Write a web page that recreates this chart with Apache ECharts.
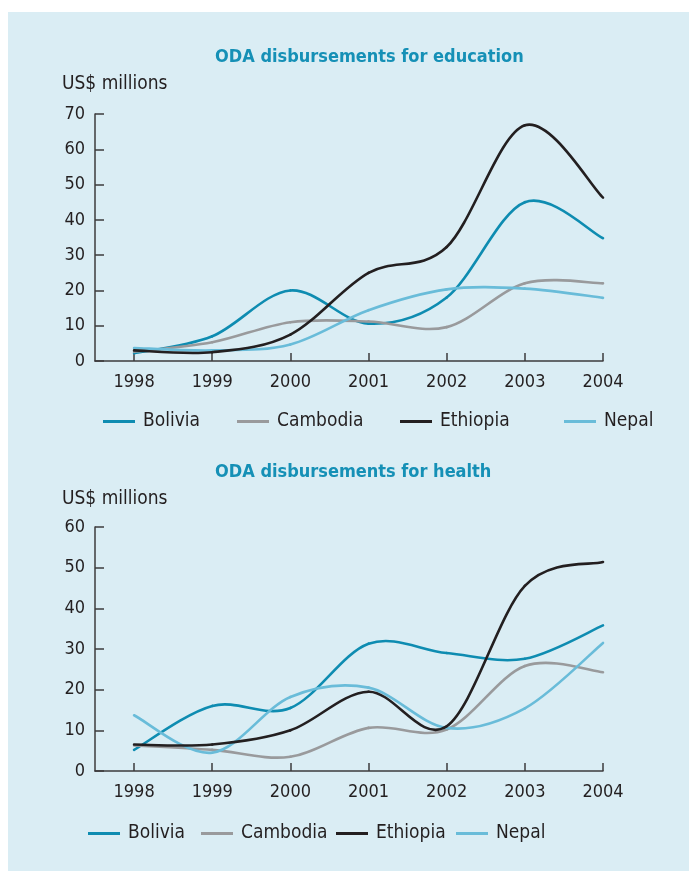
<!DOCTYPE html>
<html>
<head>
<meta charset="utf-8">
<script src="https://cdn.jsdelivr.net/npm/echarts@6/dist/echarts.min.js"></script>
<style>
html,body{margin:0;padding:0;background:#fff;}
#c{width:689px;height:871px;}
</style>
</head>
<body>
<div id="c"></div>
<script>
// ---- data ----
const years = [1998, 1999, 2000, 2001, 2002, 2003, 2004];
const countries = ['Bolivia', 'Cambodia', 'Ethiopia', 'Nepal'];
const eduBolivia  = [2.2, 7, 20, 10.6, 18, 45, 34.8];
const eduCambodia = [2.6, 5.3, 11, 11.2, 9.6, 22, 22];
const eduEthiopia = [3, 2.5, 7.5, 25, 32.3, 66.8, 46.3];
const eduNepal    = [3.7, 3, 4.7, 14.4, 20.3, 20.5, 17.9];
const hBolivia  = [5.2, 16, 15.5, 31.3, 29, 27.6, 35.8];
const hCambodia = [6.3, 5.2, 3.5, 10.6, 10.2, 25.8, 24.3];
const hEthiopia = [6.5, 6.5, 10, 19.5, 11, 45.5, 51.4];
const hNepal    = [13.7, 4.5, 18.2, 20.5, 10.6, 15.4, 31.5];
const eduTicks = [0, 10, 20, 30, 40, 50, 60, 70];
const hTicks = [0, 10, 20, 30, 40, 50, 60];

const colors = { Bolivia: '#0e8cb1', Cambodia: '#999a9c', Ethiopia: '#231f20', Nepal: '#69bcd9' };
const FONT = '"Liberation Sans Narrow", "DejaVu Sans Condensed", "Roboto Condensed", sans-serif';
const TXT = '#231f20';
const AX = '#3d3b3c';

const chart = echarts.init(document.getElementById('c'));

function pairs(vals) { return years.map((y, i) => [y, vals[i]]); }

function xAxis(gi) {
  return {
    type: 'value', gridIndex: gi, min: 1997.5, max: 2004,
    axisLine: { show: true, lineStyle: { color: AX, width: 1.5 } },
    axisTick: { show: true, inside: true, length: 8, customValues: years, lineStyle: { color: AX, width: 1.5 } },
    axisLabel: { customValues: years, margin: 12, color: TXT, fontFamily: FONT, fontSize: 18,
      formatter: v => String(v) },
    splitLine: { show: false }
  };
}
function yAxis(gi, max) {
  return {
    type: 'value', gridIndex: gi, min: 0, max: max, interval: 10,
    axisLine: { show: true, lineStyle: { color: AX, width: 1.5 } },
    axisTick: { show: true, inside: true, length: 9, lineStyle: { color: AX, width: 1.5 } },
    axisLabel: { margin: 10, color: TXT, fontFamily: FONT, fontSize: 18 },
    splitLine: { show: false }
  };
}
// Smooth curve (Catmull-Rom) drawn segment by segment through the axis scales
function curve(name, vals, gi) {
  const col = colors[name];
  return {
    type: 'custom', name: name, xAxisIndex: gi, yAxisIndex: gi,
    data: pairs(vals), clip: false,
    itemStyle: { color: col },
    z: name === 'Ethiopia' ? 3 : 2,
    renderItem: function (params, api) {
      const i = params.dataIndexInside;
      const n = params.dataInsideLength;
      if (i >= n - 1) return null;
      const pt = j => api.coord([api.value(0, j), api.value(1, j)]);
      const p1 = pt(i), p2 = pt(i + 1);
      const p0 = i > 0 ? pt(i - 1) : p1;
      const p3 = i + 2 < n ? pt(i + 2) : p2;
      return {
        type: 'bezierCurve',
        shape: {
          x1: p1[0], y1: p1[1], x2: p2[0], y2: p2[1],
          cpx1: p1[0] + (p2[0] - p0[0]) / 6, cpy1: p1[1] + (p2[1] - p0[1]) / 6,
          cpx2: p2[0] - (p3[0] - p1[0]) / 6, cpy2: p2[1] - (p3[1] - p1[1]) / 6
        },
        style: { stroke: col, lineWidth: 2.6, fill: null, lineCap: 'round' }
      };
    }
  };
}
function legend(name, left, top) {
  return {
    data: [{ name: name, itemStyle: { color: colors[name] } }], left: left, top: top,
    icon: 'rect', itemWidth: 32, itemHeight: 3,
    padding: 0, selectedMode: false,
    textStyle: { color: TXT, fontFamily: FONT, fontSize: 19, padding: [0, 0, 0, 3] }
  };
}

const topLeg = [103, 237, 400, 564];
const botLeg = [88, 201, 336, 456];

chart.setOption({
  backgroundColor: '#ffffff',
  animation: false,
  graphic: [{ type: 'rect', shape: { x: 8, y: 12, width: 700, height: 880 }, style: { fill: '#daedf4' }, z: -10 }],
  title: [
    { text: 'ODA disbursements for education', left: 215, top: 48, padding: 0,
      textStyle: { color: '#1590b6', fontFamily: FONT, fontSize: 18, fontWeight: 'bold' } },
    { text: 'US$ millions', left: 62, top: 75, padding: 0,
      textStyle: { color: TXT, fontFamily: FONT, fontSize: 19, fontWeight: 'normal' } },
    { text: 'ODA disbursements for health', left: 215, top: 463, padding: 0,
      textStyle: { color: '#1590b6', fontFamily: FONT, fontSize: 18, fontWeight: 'bold' } },
    { text: 'US$ millions', left: 62, top: 490, padding: 0,
      textStyle: { color: TXT, fontFamily: FONT, fontSize: 19, fontWeight: 'normal' } }
  ],
  legend: countries.map((n, i) => legend(n, topLeg[i], 412))
    .concat(countries.map((n, i) => legend(n, botLeg[i], 824))),
  grid: [
    { left: 95, top: 114, width: 508, height: 247 },
    { left: 95, top: 527, width: 508, height: 244 }
  ],
  xAxis: [xAxis(0), xAxis(1)],
  yAxis: [yAxis(0, eduTicks[eduTicks.length - 1]), yAxis(1, hTicks[hTicks.length - 1])],
  series: [
    curve('Bolivia', eduBolivia, 0), curve('Cambodia', eduCambodia, 0),
    curve('Ethiopia', eduEthiopia, 0), curve('Nepal', eduNepal, 0),
    curve('Bolivia', hBolivia, 1), curve('Cambodia', hCambodia, 1),
    curve('Ethiopia', hEthiopia, 1), curve('Nepal', hNepal, 1)
  ]
});
</script>
</body>
</html>
